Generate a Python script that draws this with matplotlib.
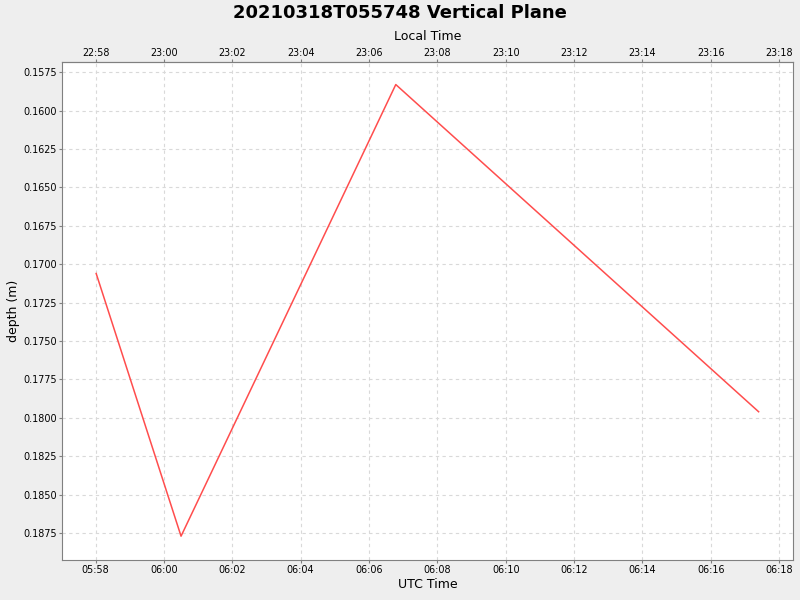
import pandas as pd
import matplotlib
matplotlib.use("Agg")
import matplotlib.pyplot as plt
import matplotlib.dates as mdates

# --- data ---
utc_times = ["2021-03-18 05:58:01", "2021-03-18 06:00:30",
             "2021-03-18 06:06:47", "2021-03-18 06:17:24"]
depths = [0.1706, 0.1877, 0.1583, 0.1796]
local_offset_hours = -7
y_ticks = [0.1575, 0.1600, 0.1625, 0.1650, 0.1675, 0.1700, 0.1725,
           0.1750, 0.1775, 0.1800, 0.1825, 0.1850, 0.1875]

t = mdates.date2num(pd.to_datetime(utc_times).to_pydatetime())
off = local_offset_hours / 24.0

grey = "#808080"
fig = plt.figure(figsize=(8, 6), dpi=100, facecolor="#EEEEEE")
ax = fig.add_axes([0.0775, 0.0667, 0.9135, 0.8295])
ax.set_facecolor("white")

ax.plot(t, depths, color="#FF4D4D", lw=1.1)

ax.set_xlim(mdates.date2num(pd.Timestamp("2021-03-18 05:57:01")),
            mdates.date2num(pd.Timestamp("2021-03-18 06:18:24")))
ax.set_ylim(0.18925, 0.15685)
ax.set_yticks(y_ticks)
ax.yaxis.set_major_formatter(plt.FormatStrFormatter("%.4f"))
ax.xaxis.set_major_locator(mdates.MinuteLocator(byminute=range(0, 60, 2)))
ax.xaxis.set_major_formatter(mdates.DateFormatter("%H:%M"))

ax.grid(True, color="#D9D9D9", ls=(0, (3, 3)), lw=0.8)
for s in ax.spines.values():
    s.set_color(grey)
ax.tick_params(colors=grey, labelcolor="black", labelsize=6.9, length=2.4, pad=1.5)

ax.set_xlabel("UTC Time", fontsize=9, labelpad=2)
ax.set_ylabel("depth (m)", fontsize=9)
ax.yaxis.set_label_coords(-0.058, 0.5)

top = ax.secondary_xaxis("top", functions=(lambda x: x + off, lambda x: x - off))
top.xaxis.set_major_locator(mdates.MinuteLocator(byminute=range(0, 60, 2)))
top.xaxis.set_major_formatter(mdates.DateFormatter("%H:%M"))
top.tick_params(colors=grey, labelcolor="black", labelsize=6.9, length=2.4, pad=0.5)
top.set_xlabel("Local Time", fontsize=9, labelpad=6)
top.spines["top"].set_color(grey)

fig.text(0.5, 0.979, "20210318T055748 Vertical Plane", ha="center", va="center",
         fontsize=13, fontweight="bold")

fig.savefig("out.png", dpi=100, facecolor=fig.get_facecolor())
